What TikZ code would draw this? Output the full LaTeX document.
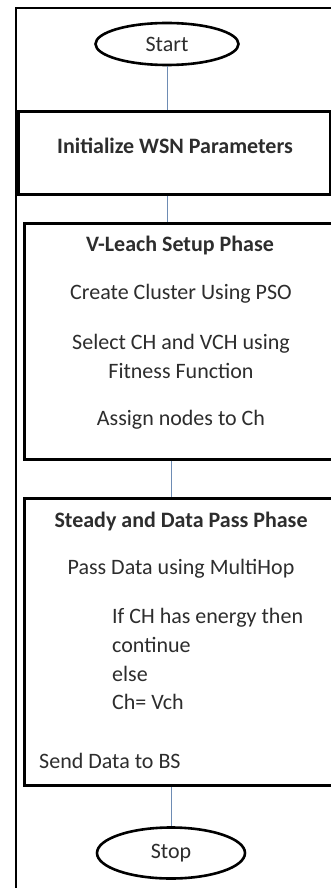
\documentclass[tikz,border=0pt]{standalone}
\usepackage{fontspec}
\setmainfont{Carlito}
\usepackage{xcolor}
\usepackage{tikz}
\usetikzlibrary{positioning, shapes.geometric}
\definecolor{linkblue}{RGB}{110,140,180}
\definecolor{textgray}{RGB}{45,45,45}
\tikzset{
terminal/.style = { ellipse, draw = black, line width = 2.6pt, fill = white, inner sep = 0pt, text = textgray, font = \fontsize{22}{26}\selectfont },
stepbox/.style = { rectangle, draw = black, line width = 2.8pt, fill = white, anchor = north west, inner sep = 0pt },
label/.style = { text = textgray, font = \fontsize{22}{29}\selectfont, inner sep = 0pt, anchor = base },
title/.style = { label, font = \fontsize{22}{29}\selectfont\bfseries },
link/.style = { draw = linkblue, line width = 1pt },
}

\begin{document}
\begin{tikzpicture}[x = 1pt, y = -1pt]
      \useasboundingbox (0, 0) rectangle (331, 888);
      \clip (0, 0) rectangle (331, 888);
      % outer frame
      \draw[line width = 2pt] (16, 888) -- (16, 8) -- (340, 8);
      % terminals
      \node[terminal, minimum width = 143pt, minimum height = 42pt] (start) at (167, 44) {Start};
      \node[terminal, minimum width = 148pt, minimum height = 51pt] (stop) at (171, 853) {Stop};
      % boxes
      \node[stepbox, minimum width = 312pt, minimum height = 83pt] (init) at (17, 110) {};
      \node[stepbox, minimum width = 330pt, minimum height = 236pt] (setup) at (23, 222) {};
      \node[stepbox, minimum width = 330pt, minimum height = 287pt] (steady) at (23, 497) {};
      % texts
      \node[title] (init text) at (175, 153) {Initialize WSN Parameters};
      \node[title] (setup title) at (180, 251) {V-Leach Setup Phase};
      \node[label] (cluster) at (181, 299) {Create Cluster Using PSO};
      \node[label] (select) at (181, 349) {Select CH and VCH using};
      \node[label] (fitness) at (181, 378) {Fitness Function};
      \node[label] (assign) at (181, 425) {Assign nodes to Ch};
      \node[title] (steady title) at (181, 527) {Steady and Data Pass Phase};
      \node[label] (pass) at (181, 574) {Pass Data using MultiHop};
      \node[label, anchor = base west] (check) at (112, 623) {If CH has energy then};
      \node[label, anchor = base west] (cont) at (112, 652) {continue};
      \node[label, anchor = base west] (other) at (112, 681) {else};
      \node[label, anchor = base west] (swap) at (112, 709) {Ch= Vch};
      \node[label, anchor = base west] (send) at (39, 768) {Send Data to BS};
      % connectors
      \path[link] (start.south) -- (start.south |- init.north);
      \path[link] (init.south -| start.south) -- (start.south |- setup.north);
      \path[link] (setup.south -| stop.north) -- (steady.north -| stop.north);
      \path[link] (steady.south -| stop.north) -- (stop.north);
    \end{tikzpicture}
\end{document}
